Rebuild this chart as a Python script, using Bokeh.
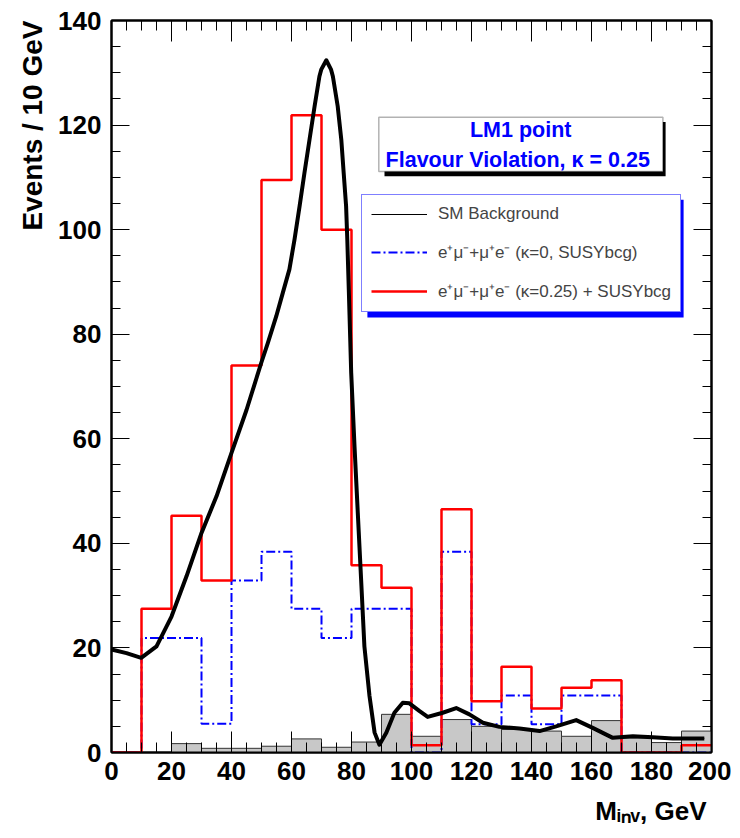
from bokeh.plotting import figure
from bokeh.models import (Range1d, LinearAxis, SingleIntervalTicker, Label,
                          BoxAnnotation, Legend, LegendItem, Title,
                          CustomLabelingPolicy)
from bokeh.embed import file_html
from bokeh.resources import INLINE

# ---------------- data ----------------
bin_edges = list(range(0, 201, 10))
sig_k025 = [0, 27.5, 45.3, 32.9, 74.0, 109.5, 121.9, 100.0, 35.8, 31.5,
            1.4, 46.5, 9.8, 16.4, 8.4, 12.4, 13.8, 0, 0, 1.4]
sig_k0 = [0, 21.9, 21.9, 5.5, 32.9, 38.4, 27.5, 21.9, 27.5, 27.5,
          0, 38.4, 5.4, 10.9, 5.4, 10.9, 10.9, 0, 0, 0]
sm_hist = [0, 0, 1.7, 0.8, 0.8, 1.2, 2.6, 1.0, 2.0, 7.3,
           3.1, 6.3, 5.0, 4.4, 4.1, 3.1, 6.1, 2.8, 1.9, 4.1]

bg_x = [0, 5, 9.9, 15, 20, 25, 30, 35, 40, 45, 49.9, 52.1, 54.9, 57.1, 59.3,
        61, 62.7, 64.3, 66, 67.7, 69.3, 69.9, 71.6, 73.2, 73.8, 75.4, 76.6,
        77.4, 78.2, 78.6, 79.1, 79.9, 81, 82.1, 83.2, 84.3, 86, 87.7, 89.3,
        91.6, 94.3, 97.1, 99.3, 102.7, 105.4, 110.4, 114.9, 119.3, 123.8,
        129.3, 136, 142.7, 148.2, 154.9, 160.4, 167.1, 173.8, 180.4, 187.1,
        197.6]
bg_y = [19.7, 19.0, 18.1, 20.3, 26.0, 33.7, 42.0, 49.0, 57.3, 65.5, 74.5,
        78.3, 83.4, 87.9, 92.4, 98.1, 104.5, 110.8, 117.2, 123.6, 129.3,
        130.6, 132.4, 130.6, 129.3, 123.6, 117.2, 110.8, 104.5, 98.1, 88.5,
        72.6, 58.6, 45.8, 33.1, 20.3, 10.8, 3.8, 1.5, 3.8, 7.6, 9.5, 9.4,
        7.9, 6.8, 7.6, 8.5, 7.3, 5.7, 4.9, 4.6, 4.1, 5.0, 6.2, 4.7, 2.8,
        3.1, 2.9, 2.7, 2.7]

legend_labels = ["SM Background",
                 "e\u207a\u03bc\u207b+\u03bc\u207ae\u207b (\u03ba=0, SUSYbcg)",
                 "e\u207a\u03bc\u207b+\u03bc\u207ae\u207b (\u03ba=0.25) + SUSYbcg"]
title_lines = ["LM1 point", "Flavour Violation,  \u03ba = 0.25"]
y_title = "Events / 10 GeV"
x_title = "M\u1d62\u2099\u1d65, GeV"

FONT = "Liberation Sans"

# ---------------- figure ----------------
p = figure(width=731, height=836, output_backend="svg", toolbar_location=None,
           x_range=Range1d(0, 200), y_range=Range1d(0, 140),
           x_axis_location=None, y_axis_location=None,
           min_border_left=111, min_border_right=20,
           min_border_top=20, min_border_bottom=84)
p.xgrid.visible = False
p.ygrid.visible = False
p.outline_line_color = "black"
p.outline_line_width = 2
p.background_fill_color = "white"
p.border_fill_color = "white"


def style_axis(ax, tick_in, minor_in, labels=True):
    ax.ticker = SingleIntervalTicker(interval=20, num_minor_ticks=4)
    ax.major_tick_in = tick_in
    ax.major_tick_out = 0
    ax.minor_tick_in = minor_in
    ax.minor_tick_out = 0
    ax.major_tick_line_color = "black"
    ax.minor_tick_line_color = "black"
    ax.axis_line_color = "black"
    ax.axis_line_width = 2
    ax.major_label_text_font = FONT
    ax.major_label_text_font_style = "bold"
    ax.major_label_text_color = "black"
    if labels:
        ax.major_label_text_font_size = "26px"
    else:
        # mirrored ticks only (ROOT style), no labels
        ax.major_label_text_font_size = "1px"
        ax.major_label_policy = CustomLabelingPolicy(code="return new Set()")
        ax.major_label_standoff = 0


xb = LinearAxis()
style_axis(xb, 21, 10)
xb.major_label_standoff = 9
p.add_layout(xb, "below")
xt = LinearAxis()
style_axis(xt, 21, 10, labels=False)
p.add_layout(xt, "above")
yl = LinearAxis()
style_axis(yl, 18, 9)
yl.major_label_standoff = 10
p.add_layout(yl, "left")
yr = LinearAxis()
style_axis(yr, 18, 9, labels=False)
p.add_layout(yr, "right")

# axis titles (ROOT style: at the end of the axis)
p.add_layout(Title(text=y_title, align="right", text_font=FONT,
                   text_font_style="bold", text_font_size="28px",
                   text_color="black", standoff=16), "left")
p.add_layout(Title(text=x_title, align="right", text_font=FONT,
                   text_font_style="bold", text_font_size="26px",
                   text_color="black", standoff=22, offset=5,
                   text_line_height=0.6), "below")

# ---------------- glyphs ----------------
p.quad(left=bin_edges[:-1], right=bin_edges[1:], bottom=0, top=sm_hist,
       fill_color="#c8c8c8", line_color="#333333", line_width=1)
r_blue = p.step(x=bin_edges, y=sig_k0 + [sig_k0[-1]], mode="after",
                line_color="#0000ff", line_width=2, line_dash="9 3 2 3")
r_red = p.step(x=bin_edges, y=sig_k025 + [sig_k025[-1]], mode="after",
               line_color="#ff0000", line_width=2.5)
r_black_leg = p.line(x=bg_x, y=bg_y, line_color="black", line_width=1)
p.line(x=bg_x, y=bg_y, line_color="black", line_width=4, line_join="round")

# ---------------- legend ----------------
p.add_layout(BoxAnnotation(left=85.3, right=190.7, top=105.7, bottom=83.2,
                           fill_color="#0000ff", fill_alpha=1, line_color=None))
legend = Legend(items=[LegendItem(label=legend_labels[0], renderers=[r_black_leg]),
                       LegendItem(label=legend_labels[1], renderers=[r_blue]),
                       LegendItem(label=legend_labels[2], renderers=[r_red])],
                location=(250, 440), margin=0, padding=9, spacing=16,
                glyph_width=56, glyph_height=20, label_height=20,
                label_standoff=11, label_text_font=FONT,
                label_text_font_size="17px",
                border_line_color="#0000ff", border_line_width=1,
                background_fill_color="white", background_fill_alpha=1)
p.add_layout(legend)

# ---------------- title box ----------------
p.add_layout(BoxAnnotation(left=91.0, right=184.7, top=120.6, bottom=110.2,
                           fill_color="black", fill_alpha=1, line_color=None))
p.add_layout(BoxAnnotation(left=89.1, right=183.8, top=121.5, bottom=111.1,
                           fill_color="white", fill_alpha=1,
                           line_color="black", line_width=1.5))
for txt, yy in zip(title_lines, [119.0, 113.3]):
    p.add_layout(Label(x=136.4, y=yy, text=txt, text_align="center",
                       text_baseline="alphabetic", text_font=FONT,
                       text_font_style="bold", text_font_size="21.5px",
                       text_color="#0000ff"))

open("out.html", "w").write(file_html(p, INLINE))
